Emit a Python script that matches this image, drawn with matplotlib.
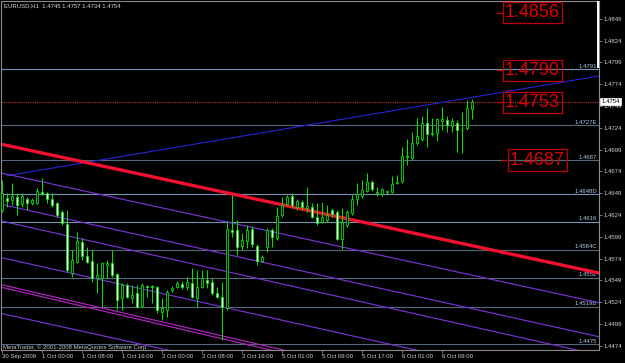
import matplotlib
matplotlib.use('Agg')
import matplotlib.pyplot as plt
import numpy as np
from matplotlib.transforms import blended_transform_factory

plt.rcParams['font.family'] = ['Liberation Sans', 'DejaVu Sans']

# ---------------- data ----------------
symbol_title = "EURUSD,H1  1.4745 1.4757 1.4734 1.4754"
copyright_text = "MetaTrader, \u00a9 2001-2008 MetaQuotes Software Corp."

open_ = [1.4630, 1.4643, 1.4641, 1.4645, 1.4637, 1.4642, 1.4638, 1.4638, 1.4650, 1.4649,
         1.4642, 1.4638, 1.4627, 1.4614, 1.4558, 1.4570, 1.4593, 1.4577, 1.4571, 1.4552,
         1.4552, 1.4567, 1.4569, 1.4556, 1.4529, 1.4544, 1.4529, 1.4535, 1.4520, 1.4543,
         1.4543, 1.4541, 1.4513, 1.4515, 1.4538, 1.4541, 1.4545, 1.4541, 1.4546, 1.4529,
         1.4541, 1.4550, 1.4547, 1.4535, 1.4530, 1.4518, 1.4607, 1.4607, 1.4589, 1.4594,
         1.4608, 1.4589, 1.4571, 1.4587, 1.4607, 1.4598, 1.4624, 1.4637, 1.4646, 1.4633,
         1.4639, 1.4632, 1.4633, 1.4622, 1.4616, 1.4618, 1.4630, 1.4627, 1.4597, 1.4613,
         1.4626, 1.4642, 1.4646, 1.4651, 1.4662, 1.4649, 1.4648, 1.4650, 1.4650, 1.4661,
         1.4663, 1.4691, 1.4689, 1.4706, 1.4711, 1.4729, 1.4717, 1.4718, 1.4732, 1.4733,
         1.4726, 1.4730, 1.4721, 1.4724, 1.4745]
high = [1.4664, 1.4649, 1.4661, 1.4649, 1.4649, 1.4645, 1.4643, 1.4655, 1.4666, 1.4650,
        1.4649, 1.4639, 1.4630, 1.4630, 1.4584, 1.4605, 1.4598, 1.4587, 1.4584, 1.4569,
        1.4570, 1.4572, 1.4584, 1.4558, 1.4546, 1.4546, 1.4544, 1.4544, 1.4546, 1.4544,
        1.4544, 1.4543, 1.4529, 1.4538, 1.4543, 1.4548, 1.4548, 1.4553, 1.4563, 1.4561,
        1.4561, 1.4561, 1.4552, 1.4541, 1.4547, 1.4617, 1.4647, 1.4618, 1.4603, 1.4613,
        1.4611, 1.4591, 1.4578, 1.4609, 1.4609, 1.4633, 1.4645, 1.4647, 1.4649, 1.4642,
        1.4641, 1.4656, 1.4638, 1.4638, 1.4639, 1.4635, 1.4632, 1.4630, 1.4632, 1.4630,
        1.4647, 1.4661, 1.4664, 1.4672, 1.4664, 1.4656, 1.4655, 1.4653, 1.4669, 1.4670,
        1.4702, 1.4711, 1.4719, 1.4735, 1.4737, 1.4747, 1.4735, 1.4735, 1.4748, 1.4737,
        1.4735, 1.4733, 1.4742, 1.4756, 1.4757]
low = [1.4627, 1.4633, 1.4635, 1.4624, 1.4633, 1.4630, 1.4635, 1.4637, 1.4647, 1.4638,
       1.4633, 1.4622, 1.4613, 1.4559, 1.4553, 1.4569, 1.4572, 1.4569, 1.4547, 1.4535,
       1.4519, 1.4552, 1.4553, 1.4515, 1.4515, 1.4529, 1.4523, 1.4518, 1.4519, 1.4530,
       1.4523, 1.4512, 1.4504, 1.4507, 1.4536, 1.4540, 1.4539, 1.4538, 1.4529, 1.4519,
       1.4540, 1.4540, 1.4532, 1.4529, 1.4481, 1.4515, 1.4599, 1.4578, 1.4584, 1.4586,
       1.4587, 1.4567, 1.4570, 1.4582, 1.4587, 1.4595, 1.4622, 1.4635, 1.4632, 1.4630,
       1.4630, 1.4627, 1.4621, 1.4613, 1.4615, 1.4616, 1.4622, 1.4595, 1.4585, 1.4610,
       1.4624, 1.4635, 1.4643, 1.4650, 1.4651, 1.4646, 1.4646, 1.4647, 1.4649, 1.4660,
       1.4661, 1.4681, 1.4687, 1.4704, 1.4709, 1.4702, 1.4714, 1.4709, 1.4721, 1.4719,
       1.4719, 1.4696, 1.4695, 1.4721, 1.4734]
close = [1.4649, 1.4640, 1.4646, 1.4635, 1.4646, 1.4638, 1.4641, 1.4651, 1.4648, 1.4642,
         1.4635, 1.4624, 1.4615, 1.4561, 1.4572, 1.4594, 1.4577, 1.4570, 1.4552, 1.4555,
         1.4569, 1.4569, 1.4555, 1.4527, 1.4544, 1.4530, 1.4532, 1.4519, 1.4544, 1.4541,
         1.4542, 1.4515, 1.4518, 1.4536, 1.4540, 1.4546, 1.4541, 1.4547, 1.4530, 1.4541,
         1.4552, 1.4546, 1.4535, 1.4530, 1.4519, 1.4608, 1.4605, 1.4587, 1.4595, 1.4607,
         1.4591, 1.4571, 1.4576, 1.4607, 1.4599, 1.4623, 1.4635, 1.4645, 1.4635, 1.4640,
         1.4633, 1.4634, 1.4622, 1.4615, 1.4622, 1.4624, 1.4625, 1.4597, 1.4616, 1.4627,
         1.4642, 1.4648, 1.4653, 1.4662, 1.4654, 1.4650, 1.4654, 1.4651, 1.4660, 1.4662,
         1.4692, 1.4692, 1.4707, 1.4715, 1.4729, 1.4717, 1.4718, 1.4734, 1.4734, 1.4727,
         1.4732, 1.4721, 1.4722, 1.4747, 1.4754]

time_labels = ["30 Sep 2009", "1 Oct 00:00", "1 Oct 08:00", "1 Oct 16:00", "2 Oct 00:00",
               "2 Oct 08:00", "2 Oct 16:00", "5 Oct 01:00", "5 Oct 09:00", "5 Oct 17:00",
               "6 Oct 01:00", "6 Oct 09:00"]
time_label_bars = [0, 8, 16, 24, 32, 40, 48, 56, 64, 72, 80, 88]

price_ticks = [1.4849, 1.4824, 1.4799, 1.4774, 1.4749, 1.4724, 1.4699, 1.4674,
               1.4649, 1.4624, 1.4599, 1.4574, 1.4549, 1.4524, 1.4499, 1.4474]

hline_levels = [1.4791, 1.4727, 1.4687, 1.4648, 1.4616, 1.4584, 1.4552, 1.4519, 1.4476]
hline_labels = ["1.4791", "1.4727E", "1.4687", "1.4648D", "1.4616", "1.4584C", "1.4552",
                "1.4519B", "1.4475"]
hline_bright = [True, False, False, True, True, False, False, False, False]

last_price = 1.4754
last_price_label = "1.4754"

marker_prices = [1.4856, 1.4790, 1.4753, 1.4687]
marker_labels = ["1.4856", "1.4790", "1.4753", "1.4687"]
marker_bars = [100.6, 100.6, 100.6, 101.6]

# trend lines: anchor bar/price pairs
trend_names = ["red", "blue", "ch1", "ch2", "ch3", "ch4", "mag1", "mag2", "ch6"]
trend_bar0 = [0, 1, 0, 0, 0, 0, 0, 0, 0]
trend_price0 = [1.4705, 1.4669, 1.4672, 1.4636, 1.4617, 1.4575, 1.4544, 1.4541, 1.4511]
trend_bar1 = [119, 119, 119, 119, 119, 119, 119, 119, 119]
trend_price1 = [1.4558, 1.4783, 1.4524, 1.4485, 1.4464, 1.4423, 1.4386, 1.4382, 1.4361]
trend_colors = ["#f41030", "#2424d8", "#7832d2", "#7832d2", "#7832d2", "#7832d2",
                "#b424c4", "#b424c4", "#7832d2"]
trend_widths = [2.4, 0.8, 0.85, 0.85, 0.85, 0.85, 0.85, 0.85, 0.85]

# ---------------- figure ----------------
W, H = 625, 363
fig = plt.figure(figsize=(W / 100, H / 100), dpi=100, facecolor='black')
ax = fig.add_axes([1 / W, 13 / H, 598 / W, 349 / H])
ax.set_facecolor('black')
ax.set_xlim(-0.2, 119.4)
ax.set_ylim(1.44693, 1.48693)

frame_col = '#8c8c8c'
for s in ax.spines.values():
    s.set_color(frame_col)
    s.set_linewidth(0.8)

# horizontal levels
for lvl, lab, br in zip(hline_levels, hline_labels, hline_bright):
    col = '#7394b6' if br else '#56687a'
    ax.axhline(lvl, color=col, lw=0.8, zorder=1)
    ax.text(119.0, lvl + 0.00006, lab, ha='right', va='bottom', fontsize=4.3,
            color='#a8c8e8', zorder=1)

ax.axhline(last_price, color='#c83030', lw=0.8, ls=(0, (1, 1)), zorder=1)

# trend lines (extended across chart)
for b0, p0, b1, p1, c, w in zip(trend_bar0, trend_price0, trend_bar1, trend_price1,
                                trend_colors, trend_widths):
    slope = (p1 - p0) / (b1 - b0)
    xs = np.array([max(b0, -2.0), 121.0])
    ax.plot(xs, p0 + slope * (xs - b0), color=c, lw=w, zorder=2 if w > 1 else 1.5,
            solid_capstyle='butt')

# candles
n = len(open_)
xb = np.arange(n)
o = np.array(open_); h = np.array(high); l = np.array(low); c = np.array(close)
green = '#00e400'
ax.vlines(xb, l, h, color=green, lw=0.75, zorder=3)
body_lo = np.minimum(o, c)
body_h = np.abs(c - o)
faces = ['black' if cc > oo else 'white' for oo, cc in zip(o, c)]
ax.bar(xb, body_h, bottom=body_lo, width=0.55, color=faces, edgecolor=green,
       linewidth=0.6, zorder=4)
doji = body_h < 0.00005
ax.hlines(c[doji], xb[doji] - 0.35, xb[doji] + 0.35, color=green, lw=0.8, zorder=4)

# red price labels
for p, lab, bx in zip(marker_prices, marker_labels, marker_bars):
    ax.plot([bx - 1.6, bx - 0.5], [p, p], color='#d00000', lw=0.9, zorder=5)
    ax.text(bx, p, lab, fontsize=13, color='#dd0000', ha='left', va='center', zorder=6,
            bbox=dict(boxstyle='square,pad=0.12', fc='none', ec='#c00000', lw=0.9))

# white marker bar at the right edge top
ax.vlines(119.1, 1.4793, 1.4870, color='white', lw=1.4, zorder=5)

# axes ticks
ax.yaxis.tick_right()
ax.set_yticks(price_ticks)
ax.set_yticklabels([f"{v:.4f}" for v in price_ticks])
ax.tick_params(axis='y', colors=frame_col, labelcolor='#d0d0d0', labelsize=4.3,
               length=2, width=0.6, pad=1.2, direction='out')
ax.set_xticks(time_label_bars)
ax.set_xticklabels(time_labels, ha='left')
ax.tick_params(axis='x', colors=frame_col, labelcolor='#d0d0d0', labelsize=4.3,
               length=2, width=0.6, pad=1.0, direction='out')

# last price box on the axis
tr = blended_transform_factory(ax.transAxes, ax.transData)
ax.text(1.004, last_price, last_price_label, transform=tr, fontsize=4.3, color='black',
        ha='left', va='center', zorder=7, clip_on=False,
        bbox=dict(boxstyle='square,pad=0.15', fc='white', ec='white', lw=0.5))

# title and copyright
ax.text(0.005, 0.985, symbol_title, transform=ax.transAxes, fontsize=4.3, color='#d8d8d8',
        ha='left', va='center', zorder=7)
ax.text(0.004, 0.009, copyright_text, transform=ax.transAxes, fontsize=4.3,
        color='#c8c8c8', ha='left', va='center', zorder=7)

fig.savefig('out.png', dpi=100, facecolor='black')
